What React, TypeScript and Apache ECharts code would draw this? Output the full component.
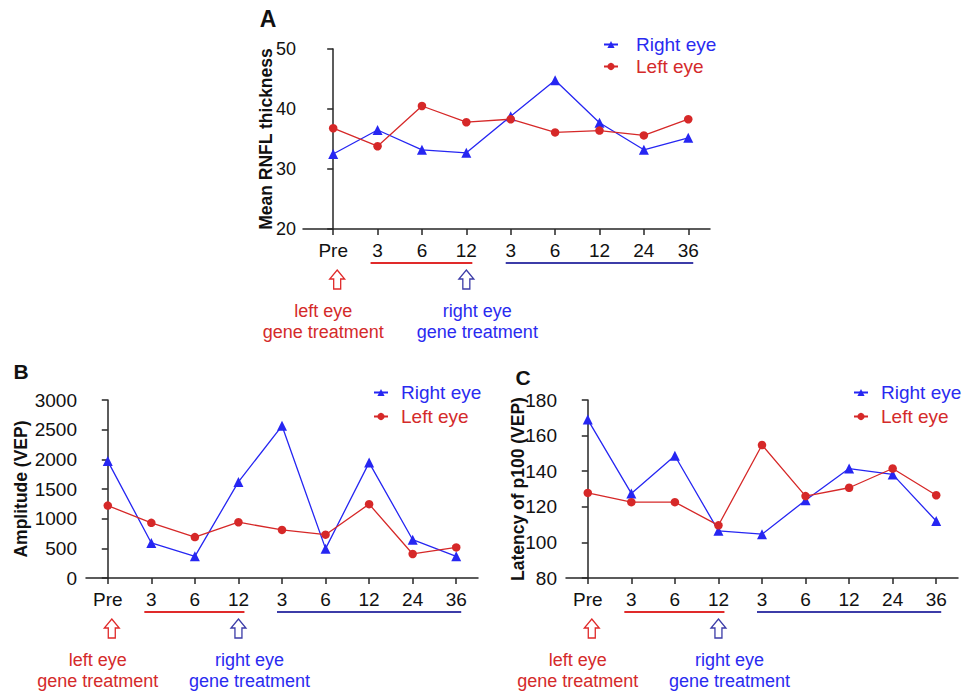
import React, { useEffect, useRef } from 'react';
import * as echarts from 'echarts';

// ---------- data ----------
const categories = ['Pre', '3', '6', '12', '3', '6', '12', '24', '36'];

const rnflRight = [32.5, 36.5, 33.2, 32.7, 38.8, 44.8, 37.7, 33.2, 35.2];
const rnflLeft = [36.8, 33.8, 40.5, 37.8, 38.3, 36.1, 36.4, 35.6, 38.3];

const ampRight = [1970, 590, 365, 1620, 2565, 495, 1945, 645, 365];
const ampLeft = [1220, 930, 690, 940, 810, 730, 1245, 405, 515];

const latRight = [169, 127.5, 148.7, 106.5, 104.6, 123.7, 141.5, 138.2, 112];
const latLeft = [127.8, 122.6, 122.6, 109.6, 154.7, 126, 130.7, 141.5, 126.5];

const seriesNames = ['Right eye', 'Left eye'];
const panelLetters = ['A', 'B', 'C'];
const yTitles = ['Mean RNFL thickness', 'Amplitude (VEP)', 'Latency of p100 (VEP)'];
const annotationLeft = ['left eye', 'gene treatment'];
const annotationRight = ['right eye', 'gene treatment'];

// ---------- styles ----------
const FONT = '"Liberation Sans", Arial, Helvetica, sans-serif';
const AX = '#262626';
const BLUE = '#2626f2';
const RED = '#d62828';
const BLUE_T = '#2a2af0';
const RED_T = '#d42a2a';
const NAVY = '#3c3ca8';
const RED_LINE = '#e02a2a';

const panels = [
  {
    right: rnflRight, left: rnflLeft,
    grid: { left: 303, top: 49, width: 407, height: 180 },
    xMin: -0.68, xMax: 8.49,
    yMin: 20, yMax: 50, yInterval: 10, nameGap: 28, yLabelMargin: 7, yLabelSize: 18,
    legend: { left: 603, top: 35, itemGap: 3, pad: 13 },
    letter: { x: 268, y: 19, size: 23 },
  },
  {
    right: ampRight, left: ampLeft,
    grid: { left: 86, top: 400, width: 392, height: 178 },
    xMin: -0.5, xMax: 8.5,
    yMin: 0, yMax: 3000, yInterval: 500, nameGap: 56, yLabelMargin: 9, yLabelSize: 19,
    legend: { left: 373, top: 383, itemGap: 5, pad: 8 },
    letter: { x: 21, y: 371, size: 21 },
  },
  {
    right: latRight, left: latLeft,
    grid: { left: 566, top: 400, width: 392, height: 178 },
    xMin: -0.5, xMax: 8.5,
    yMin: 80, yMax: 180, yInterval: 20, nameGap: 39, yLabelMargin: 9, yLabelSize: 19,
    legend: { left: 853, top: 383, itemGap: 5, pad: 8 },
    letter: { x: 523, y: 377, size: 21 },
  },
];

const tickIdx = categories.map((_, i) => i);

function buildOption(): any {
  return {
    animation: false,
    textStyle: { fontFamily: FONT },
    grid: panels.map((p) => ({ ...p.grid, containLabel: false })),
    xAxis: panels.map((p, i) => ({
      type: 'value',
      gridIndex: i,
      min: p.xMin,
      max: p.xMax,
      splitLine: { show: false },
      axisLine: { show: true, lineStyle: { color: AX, width: 1.5 } },
      axisTick: { show: true, customValues: tickIdx, length: 6, lineStyle: { color: AX, width: 1.5 } },
      axisLabel: {
        customValues: tickIdx,
        formatter: (v: number) => categories[Math.round(v)] ?? '',
        color: '#111',
        fontSize: 19,
        fontFamily: FONT,
        margin: 12,
      },
    })),
    yAxis: panels.map((p, i) => ({
      type: 'value',
      gridIndex: i,
      min: p.yMin,
      max: p.yMax,
      interval: p.yInterval,
      name: yTitles[i],
      nameLocation: 'middle',
      nameGap: p.nameGap,
      nameMoveOverlap: false,
      nameTextStyle: { fontWeight: 'bold', fontSize: 17.5, color: '#111', fontFamily: FONT },
      splitLine: { show: false },
      axisLine: { show: true, lineStyle: { color: AX, width: 1.5 } },
      axisTick: { show: true, length: 6, lineStyle: { color: AX, width: 1.5 } },
      axisLabel: {
        color: '#111',
        fontSize: p.yLabelSize,
        fontFamily: FONT,
        margin: p.yLabelMargin,
        formatter: (v: number) => String(v),
      },
    })),
    legend: panels.map((p) => ({
      orient: 'vertical',
      left: p.legend.left,
      top: p.legend.top,
      itemWidth: 14,
      itemHeight: 9,
      itemGap: p.legend.itemGap,
      selectedMode: false,
      padding: 0,
      data: [
        { name: seriesNames[0], textStyle: { color: BLUE_T } },
        { name: seriesNames[1], textStyle: { color: RED_T } },
      ],
      textStyle: { fontSize: 19, fontFamily: FONT, padding: [0, 0, 0, p.legend.pad] },
    })),
    series: panels.flatMap((p, i) => [
      {
        type: 'line',
        name: seriesNames[0],
        xAxisIndex: i,
        yAxisIndex: i,
        data: p.right.map((v, j) => [j, v]),
        symbol: 'triangle',
        symbolSize: 10,
        itemStyle: { color: BLUE },
        lineStyle: { color: BLUE, width: 1.3 },
      },
      {
        type: 'line',
        name: seriesNames[1],
        xAxisIndex: i,
        yAxisIndex: i,
        data: p.left.map((v, j) => [j, v]),
        symbol: 'circle',
        symbolSize: 8.5,
        itemStyle: { color: RED },
        lineStyle: { color: RED, width: 1.3 },
      },
    ]),
  };
}

function arrow(cx: number, tipY: number, color: string) {
  const pts = [
    [0, 0], [7.5, 9], [3.5, 9], [3.5, 19], [-3.5, 19], [-3.5, 9], [-7.5, 9],
  ].map(([x, y]) => [cx + x, tipY + y]);
  return {
    type: 'polygon',
    shape: { points: pts },
    style: { fill: '#fff', stroke: color, lineWidth: 1.3 },
    silent: true,
  };
}

function buildGraphic(chart: any) {
  const els: any[] = [];
  panels.forEach((p, i) => {
    const xp = (v: number) => chart.convertToPixel({ xAxisIndex: i }, v) as number;
    const ay = p.grid.top + p.grid.height;
    els.push({
      type: 'text',
      x: p.letter.x,
      y: p.letter.y,
      style: {
        text: panelLetters[i],
        fontSize: p.letter.size,
        fontWeight: 'bold',
        fontFamily: FONT,
        fill: '#111',
        align: 'center',
        verticalAlign: 'middle',
      },
    });
    const uy = ay + 34;
    els.push({
      type: 'line',
      shape: { x1: xp(1) - 7, y1: uy, x2: xp(3) + 6, y2: uy },
      style: { stroke: RED_LINE, lineWidth: 2 },
    });
    els.push({
      type: 'line',
      shape: { x1: xp(4) - 5, y1: uy, x2: xp(8) + 5, y2: uy },
      style: { stroke: NAVY, lineWidth: 2 },
    });
    els.push(arrow(xp(0) + 4, ay + 41, RED_LINE));
    els.push(arrow(xp(3), ay + 41, NAVY));
    const leftX = xp(0) - 10;
    const rightX = xp(3) + 11;
    annotationLeft.forEach((t, k) => {
      els.push({
        type: 'text',
        x: leftX,
        y: ay + 82 + k * 21,
        style: { text: t, fontSize: 18, fontFamily: FONT, fill: RED_T, align: 'center', verticalAlign: 'middle' },
      });
    });
    annotationRight.forEach((t, k) => {
      els.push({
        type: 'text',
        x: rightX,
        y: ay + 82 + k * 21,
        style: { text: t, fontSize: 18, fontFamily: FONT, fill: BLUE_T, align: 'center', verticalAlign: 'middle' },
      });
    });
  });
  return els;
}

export default function App() {
  const ref = useRef<HTMLDivElement>(null);
  useEffect(() => {
    document.body.style.margin = '0';
    const chart = echarts.init(ref.current!, null, { renderer: 'svg' });
    chart.setOption(buildOption());
    chart.setOption({ graphic: buildGraphic(chart) });
    return () => chart.dispose();
  }, []);
  return <div ref={ref} style={{ width: 962, height: 695, background: '#fff' }} />;
}
